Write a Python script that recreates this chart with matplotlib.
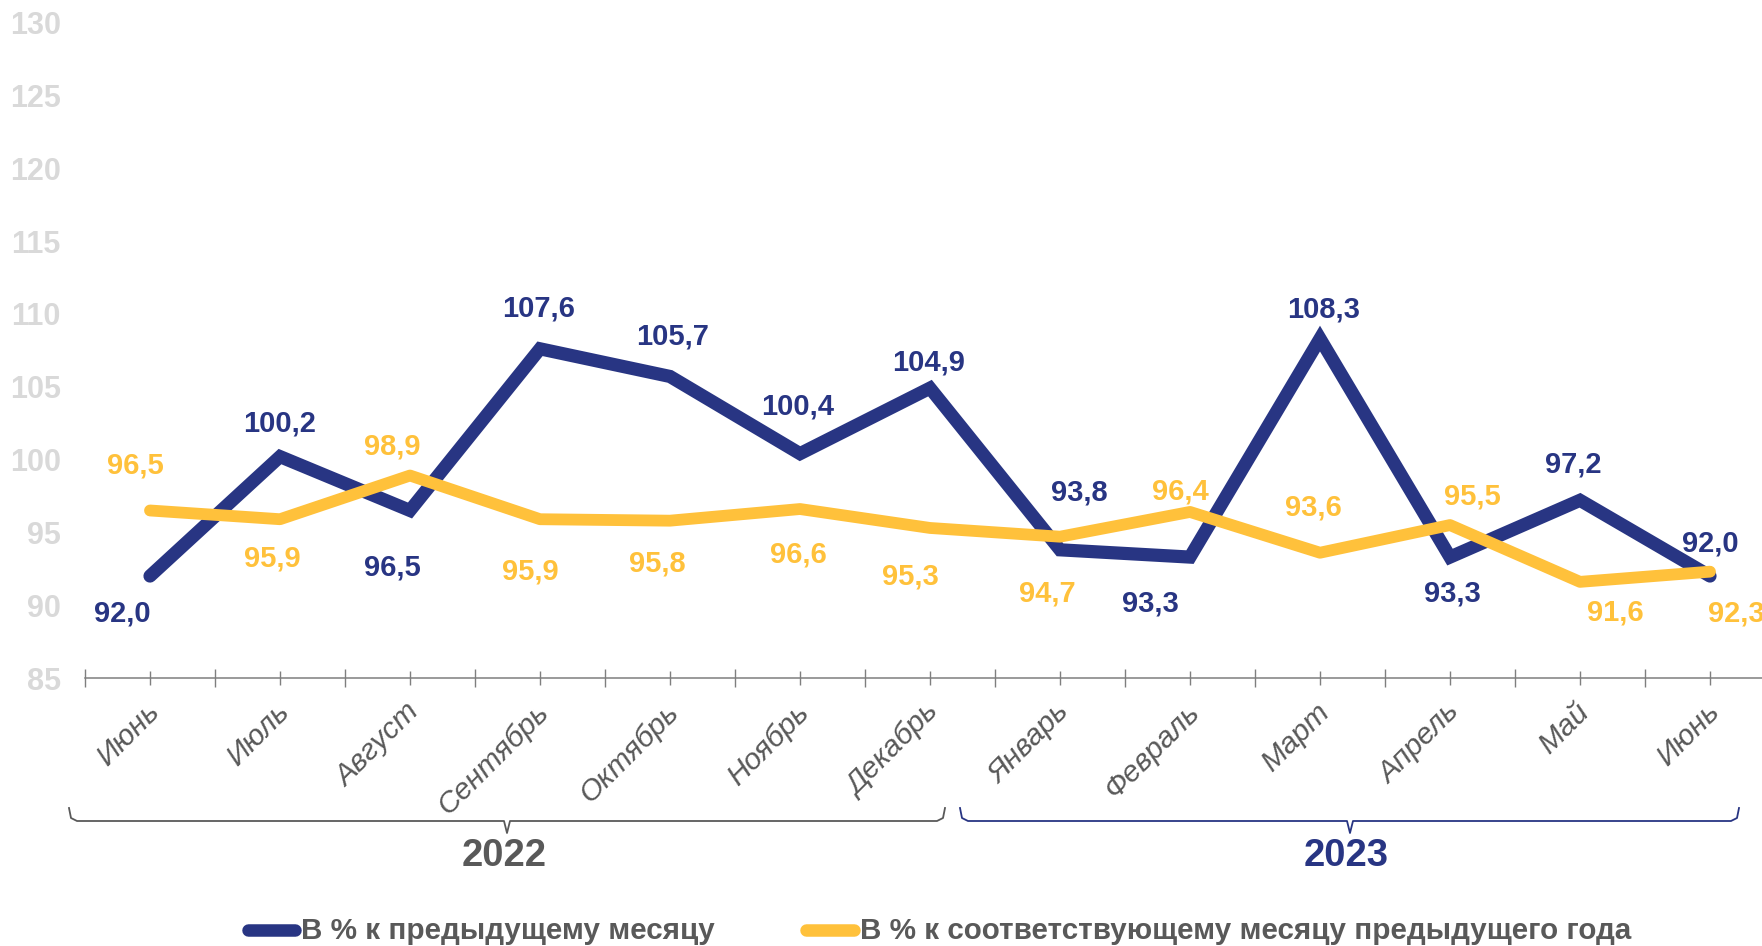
import numpy as np
import matplotlib
matplotlib.use("Agg")
import matplotlib.pyplot as plt
from matplotlib.lines import Line2D

plt.rcParams["font.family"] = ["Liberation Sans", "DejaVu Sans"]

# Данные
months = ["Июнь", "Июль", "Август", "Сентябрь", "Октябрь", "Ноябрь", "Декабрь",
          "Январь", "Февраль", "Март", "Апрель", "Май", "Июнь"]
years = ["2022", "2023"]
prev_month = [92.0, 100.2, 96.5, 107.6, 105.7, 100.4, 104.9,
              93.8, 93.3, 108.3, 93.3, 97.2, 92.0]
prev_year = [96.5, 95.9, 98.9, 95.9, 95.8, 96.6, 95.3,
             94.7, 96.4, 93.6, 95.5, 91.6, 92.3]
legend_labels = ["В % к предыдущему месяцу",
                 "В % к соответствующему месяцу предыдущего года"]

NAVY = "#283583"
YELLOW = "#FFC13B"
GREY = "#595959"

W, H = 1762, 946
fig = plt.figure(figsize=(W / 100, H / 100), dpi=100)
ax = fig.add_axes([85 / W, 1 - 678 / H, 1690 / W, (678 - 22.5) / H])

x = np.arange(len(months))
ax.plot(x, prev_month, color=NAVY, lw=9.5, solid_joinstyle="miter",
        solid_capstyle="round", zorder=3)
ax.plot(x, prev_year, color=YELLOW, lw=8.5, solid_joinstyle="round",
        solid_capstyle="round", zorder=4)

ax.set_xlim(-0.5, len(months) - 0.5)
ax.set_ylim(85, 130)
ax.set_yticks(np.arange(85, 131, 5))
ax.tick_params(axis="y", length=0, pad=17.5, labelsize=22, labelcolor="#D9D9D9")
for t in ax.get_yticklabels():
    t.set_fontweight("bold")

for s in ["top", "right", "left"]:
    ax.spines[s].set_visible(False)
ax.spines["bottom"].set_color("#7F7F7F")
ax.spines["bottom"].set_linewidth(1.1)
ax.set_xticks(np.arange(-0.5, len(months), 1))
ax.set_xticks(x, minor=True)
ax.tick_params(axis="x", which="major", direction="inout", length=13,
               color="#7F7F7F", width=1, labelbottom=False)
ax.tick_params(axis="x", which="minor", direction="inout", length=10,
               color="#7F7F7F", width=1, labelbottom=False)

for i, m in enumerate(months):
    ax.annotate(m, xy=(i, 0), xycoords=("data", "axes fraction"),
                xytext=(5, -30), textcoords="offset pixels",
                ha="right", va="center", rotation=45, rotation_mode="anchor",
                fontsize=21.5, fontstyle="italic", color=GREY)

# подписи значений (смещения в пикселях)
navy_off = [(-28, -37), (0, 33), (-18, -57), (-1, 40), (3, 40), (-2, 47), (-1, 26),
            (19, 57), (-40, -46), (4, 29), (2, -36), (-7, 36), (0, 33)]
yel_off = [(-15, 45), (-8, -39), (-18, 29), (-10, -52), (-13, -43), (-2, -45), (-20, -49),
           (-13, -57), (-10, 20), (-7, 45), (22, 29), (35, -31), (26, -42)]
for i in range(len(months)):
    ax.annotate(f"{prev_month[i]:.1f}".replace(".", ","), xy=(i, prev_month[i]),
                xytext=navy_off[i], textcoords="offset pixels", ha="center", va="center",
                fontsize=21, fontweight="bold", color=NAVY, zorder=5)
    ax.annotate(f"{prev_year[i]:.1f}".replace(".", ","), xy=(i, prev_year[i]),
                xytext=yel_off[i], textcoords="offset pixels", ha="center", va="center",
                fontsize=21, fontweight="bold", color=YELLOW, zorder=5)


def fx(px):
    return px / W


def fy(py):
    return 1 - py / H


# скобки годов
brackets = [(69, 945, 507, GREY, 504), (960, 1739, 1350, NAVY, 1346)]
for (x0, x1, xc, col, xt), yr in zip(brackets, years):
    xs = [x0, x0 + 2, x0 + 8, xc - 3, xc, xc + 3, x1 - 8, x1 - 2, x1]
    ys = [808, 818, 821, 821, 833, 821, 821, 818, 808]
    fig.add_artist(Line2D([fx(v) for v in xs], [fy(v) for v in ys],
                          color=col, lw=1.3, transform=fig.transFigure))
    fig.text(fx(xt), fy(856), yr, ha="center", va="center", fontsize=27.5,
             fontweight="bold", color=col)

# легенда
leg_pos = [(242, 301), (800, 860)]
for (x0, x1), col, lab in zip(leg_pos, [NAVY, YELLOW], legend_labels):
    fig.add_artist(Line2D([fx(x0 + 6), fx(x1 - 6)], [fy(930), fy(930)], color=col,
                          lw=9, solid_capstyle="round", transform=fig.transFigure))
    fig.text(fx(x1), fy(931), lab, ha="left", va="center", fontsize=21.3,
             fontweight="bold", color=GREY)

fig.savefig("out.png", dpi=100)
